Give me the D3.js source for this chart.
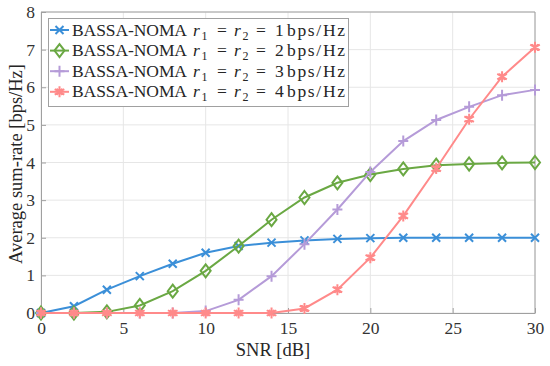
<!DOCTYPE html>
<html>
<head>
<meta charset="utf-8">
<script src="https://cdn.jsdelivr.net/npm/d3@7"></script>
</head>
<body style="margin:0; background:#fff">
<div id="chart"></div>
<script>
(function(){

    var snr = [0, 2, 4, 6, 8, 10, 12, 14, 16, 18, 20, 22, 24, 26, 28, 30];
    var rate1 = [0, 0.18, 0.62, 0.98, 1.31, 1.60, 1.78, 1.87, 1.93, 1.97, 1.99, 2.0, 2.0, 2.0, 2.0, 2.0];
    var rate2 = [0, 0, 0.03, 0.2, 0.58, 1.12, 1.78, 2.48, 3.07, 3.46, 3.68, 3.83, 3.93, 3.96, 3.99, 4.0];
    var rate3 = [0, 0, 0, 0, 0, 0.05, 0.35, 0.98, 1.83, 2.75, 3.75, 4.57, 5.13, 5.48, 5.79, 5.93];
    var rate4 = [0, 0, 0, 0, 0, 0, 0, 0, 0.12, 0.62, 1.47, 2.58, 3.84, 5.15, 6.28, 7.06];
    var rates = [1, 2, 3, 4];
    var xTicks = [0, 5, 10, 15, 20, 25, 30];
    var yTicks = [0, 1, 2, 3, 4, 5, 6, 7, 8];

    var series = [
        {r: 1, values: rate1, color: "#3b8fd8", marker: "x"},
        {r: 2, values: rate2, color: "#6aa843", marker: "diamond"},
        {r: 3, values: rate3, color: "#b59bd8", marker: "plus"},
        {r: 4, values: rate4, color: "#ff8a8a", marker: "star"}
    ];

    var serif = "'Liberation Serif', serif";
    var width = 550, height = 366;
    var left = 41, right = 535, top = 12, bottom = 313;

    var svg = d3.select("#chart").append("svg")
        .attr("width", width)
        .attr("height", height);

    var x = d3.scaleLinear().domain([0, 30]).range([left, right]);
    var y = d3.scaleLinear().domain([0, 8]).range([bottom, top]);

    // grid
    svg.append("g").selectAll("line").data(xTicks).enter().append("line")
        .attr("x1", function(d){ return x(d); }).attr("x2", function(d){ return x(d); })
        .attr("y1", top).attr("y2", bottom)
        .attr("stroke", "#e6e6e6").attr("stroke-width", 1);
    svg.append("g").selectAll("line").data(yTicks).enter().append("line")
        .attr("x1", left).attr("x2", right)
        .attr("y1", function(d){ return y(d); }).attr("y2", function(d){ return y(d); })
        .attr("stroke", "#e6e6e6").attr("stroke-width", 1);

    // axes
    var xAxis = svg.append("g")
        .attr("transform", "translate(0," + bottom + ")")
        .call(d3.axisBottom(x).tickValues(xTicks).tickSizeInner(-5).tickSizeOuter(0).tickPadding(9));
    var yAxis = svg.append("g")
        .attr("transform", "translate(" + left + ",0)")
        .call(d3.axisLeft(y).tickValues(yTicks).tickSizeInner(-5).tickSizeOuter(0).tickPadding(6));
    [xAxis, yAxis].forEach(function(a){
        a.select(".domain").attr("stroke", "#a0a0a0");
        a.selectAll(".tick line").attr("stroke", "#a0a0a0");
        a.selectAll(".tick text").attr("fill", "#333")
            .style("font-family", serif).style("font-size", "17.5px");
    });
    svg.append("line").attr("x1", left).attr("x2", right).attr("y1", top).attr("y2", top).attr("stroke", "#a0a0a0");
    svg.append("line").attr("x1", right).attr("x2", right).attr("y1", top).attr("y2", bottom).attr("stroke", "#a0a0a0");

    // labels
    svg.append("text").attr("x", 273).attr("y", 356)
        .attr("text-anchor", "middle").attr("fill", "#262626")
        .style("font-family", serif).style("font-size", "18.5px").text("SNR [dB]");
    svg.append("text").attr("transform", "translate(22," + 164 + ") rotate(-90)")
        .attr("text-anchor", "middle").attr("fill", "#262626")
        .style("font-family", serif).style("font-size", "18.5px").text("Average sum-rate [bps/Hz]");

    function drawMarker(g, type, color){
        if (type === "x") {
            g.append("path").attr("d", "M-4,-4L4,4M-4,4L4,-4").attr("stroke", color).attr("stroke-width", 2).attr("fill", "none");
        } else if (type === "diamond") {
            g.append("path").attr("d", "M0,-6.5L5,0L0,6.5L-5,0Z").attr("stroke", color).attr("stroke-width", 2).attr("fill", "none");
        } else if (type === "plus") {
            g.append("path").attr("d", "M-5,0L5,0M0,-5.5L0,5.5").attr("stroke", color).attr("stroke-width", 2).attr("fill", "none");
        } else {
            g.append("path").attr("d", "M0,-5.5L0,5.5M-4.8,-2.75L4.8,2.75M-4.8,2.75L4.8,-2.75M-3,-3L3,3M-3,3L3,-3")
                .attr("stroke", color).attr("stroke-width", 2).attr("fill", "none");
        }
    }

    var line = d3.line()
        .x(function(d, i){ return x(snr[i]); })
        .y(function(d){ return y(d); });

    series.forEach(function(s){
        svg.append("path").datum(s.values)
            .attr("d", line)
            .attr("fill", "none")
            .attr("stroke", s.color)
            .attr("stroke-width", 2);
        s.values.forEach(function(v, i){
            var g = svg.append("g").attr("transform", "translate(" + x(snr[i]) + "," + y(v) + ")");
            drawMarker(g, s.marker, s.color);
        });
    });

    // legend
    var legend = svg.append("g");
    legend.append("rect").attr("x", 48.5).attr("y", 18.5).attr("width", 300).attr("height", 88)
        .attr("fill", "#fff").attr("stroke", "#a0a0a0").attr("stroke-width", 1);

    series.forEach(function(s, i){
        var ly = 30 + i * 20.6;
        var g = legend.append("g");
        g.append("line").attr("x1", 50).attr("x2", 69).attr("y1", ly).attr("y2", ly)
            .attr("stroke", s.color).attr("stroke-width", 2);
        var m = g.append("g").attr("transform", "translate(59.5," + ly + ")");
        drawMarker(m, s.marker, s.color);
        var t = g.append("text").attr("y", ly + 5.5).attr("fill", "#262626")
            .style("font-family", serif).style("font-size", "17.5px");
        t.append("tspan").attr("x", 72).attr("textLength", 115).attr("lengthAdjust", "spacing").text("BASSA-NOMA");
        t.append("tspan").attr("x", 193).style("font-style", "italic").text("r");
        t.append("tspan").attr("x", 201.5).attr("dy", 4).style("font-size", "12px").text("1");
        t.append("tspan").attr("x", 217).attr("dy", -4).text("=");
        t.append("tspan").attr("x", 234).style("font-style", "italic").text("r");
        t.append("tspan").attr("x", 242.5).attr("dy", 4).style("font-size", "12px").text("2");
        t.append("tspan").attr("x", 256).attr("dy", -4).text("=");
        t.append("tspan").attr("x", 275).text(rates[i]);
        t.append("tspan").attr("x", 287).attr("textLength", 58).attr("lengthAdjust", "spacing").text("bps/Hz");
    });

})();
</script>
</body>
</html>
